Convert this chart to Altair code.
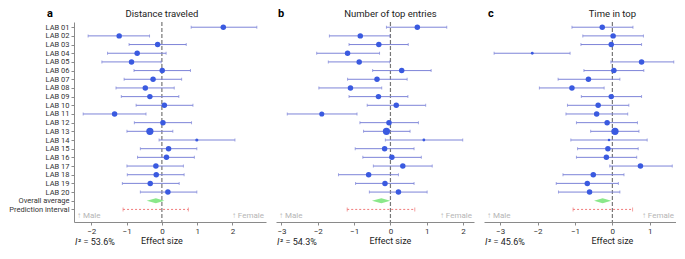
import altair as alt
import pandas as pd

# ---------------- data ----------------
labs = ["LAB 01", "LAB 02", "LAB 03", "LAB 04", "LAB 05", "LAB 06", "LAB 07", "LAB 08",
        "LAB 09", "LAB 10", "LAB 11", "LAB 12", "LAB 13", "LAB 14", "LAB 15", "LAB 16",
        "LAB 17", "LAB 18", "LAB 19", "LAB 20"]
summary_rows = ["Overall average", "Prediction interval"]

a_est = [1.74, -1.21, -0.12, -0.70, -0.86, 0.01, -0.25, -0.47, -0.34, 0.07, -1.34, 0.03,
         -0.34, 0.99, 0.19, 0.13, -0.17, -0.16, -0.33, 0.17]
a_lo = [0.83, -2.09, -0.93, -1.54, -1.70, -0.79, -1.07, -1.30, -1.15, -0.73, -2.23, -0.78,
        -0.99, -0.08, -0.61, -0.69, -0.99, -0.98, -1.12, -0.61]
a_hi = [2.69, -0.35, 0.69, 0.12, -0.02, 0.81, 0.56, 0.35, 0.48, 0.88, -0.45, 0.84,
        0.31, 2.07, 0.99, 0.92, 0.61, 0.63, 0.49, 0.99]
a_w = [30, 30, 30, 30, 30, 30, 30, 30, 30, 30, 30, 30, 52, 10, 30, 30, 30, 30, 30, 30]
a_overall = [-0.43, -0.17, 0.07]      # lo, est, hi
a_pred = [-1.10, 0.75]
a_i2 = "53.6%"

b_est = [0.74, -0.83, -0.32, -1.18, -0.86, 0.31, -0.37, -1.10, -0.33, 0.16, -1.89, -0.04,
         -0.11, 0.92, -0.16, 0.04, 0.34, -0.60, -0.15, 0.22]
b_lo = [-0.11, -1.68, -1.14, -2.03, -1.71, -0.49, -1.18, -1.97, -1.14, -0.64, -2.84, -0.84,
        -0.74, -0.14, -0.97, -0.76, -0.47, -1.43, -0.96, -0.58]
b_hi = [1.55, -0.02, 0.49, -0.30, -0.02, 1.12, 0.46, -0.24, 0.48, 0.97, -0.92, 0.77,
        0.54, 1.99, 0.65, 0.85, 1.15, 0.22, 0.65, 1.01]
b_w = [30, 30, 30, 30, 30, 30, 30, 30, 30, 30, 26, 30, 52, 8, 30, 30, 30, 30, 30, 30]
b_overall = [-0.51, -0.25, 0.0]
b_pred = [-1.19, 0.67]
b_i2 = "54.3%"

c_est = [-0.27, 0.02, -0.03, -2.14, 0.78, 0.04, -0.64, -1.08, -0.03, -0.38, -0.42, -0.14,
         0.07, -0.09, -0.12, -0.16, 0.75, -0.51, -0.67, -0.61]
c_lo = [-1.08, -0.79, -0.84, -3.16, -0.04, -0.76, -1.45, -1.95, -0.83, -1.20, -1.24, -0.96,
        -0.58, -1.11, -0.93, -0.96, -0.07, -1.32, -1.50, -1.44]
c_hi = [0.55, 0.83, 0.78, -1.13, 1.64, 0.84, 0.20, -0.22, 0.78, 0.44, 0.41, 0.67,
        0.71, 0.93, 0.69, 0.65, 1.60, 0.31, 0.16, 0.20]
c_w = [30, 30, 30, 8, 30, 30, 30, 30, 30, 30, 30, 30, 52, 6, 30, 30, 30, 30, 30, 30]
c_overall = [-0.49, -0.26, -0.03]
c_pred = [-1.05, 0.54]
c_i2 = "45.6%"

titles = ["Distance traveled", "Number of top entries", "Time in top"]
letters = ["a", "b", "c"]
a_ticks = [-2, -1, 0, 1, 2]
b_ticks = [-3, -2, -1, 0, 1, 2]
c_ticks = [-3, -2, -1, 0, 1]
x_title = "Effect size"
side_labels = ["\u2191 Male", "\u2191 Female"]

# ---------------- style ----------------
FONT = "Roboto"
PT = "#3a5ae0"
BAR = "#7d84d8"
GREEN = "#8ae88a"
RED = "#f07a7a"
AXC = "#8a8a8a"
TXT = "#333333"
H = 200
YDOM = [-0.6, 22.45]
DIAMOND_HALF = 0.3
SIDE_ROW = 21.72


def panel(letter, title, est, lo, hi, w, overall, pred, i2, xdom, xticks, width, letter_dx, show_y):
    n = len(labs)
    df = pd.DataFrame({"i": list(range(n)), "lab": labs, "est": est, "lo": lo, "hi": hi, "w": w})
    row_overall = n
    row_pred = n + 1
    diamond = pd.DataFrame({
        "x": [overall[0], overall[1], overall[2]],
        "y": [row_overall, row_overall - DIAMOND_HALF, row_overall],
        "y2": [row_overall, row_overall + DIAMOND_HALF, row_overall],
    })
    pred_df = pd.DataFrame({"lo": [pred[0]], "hi": [pred[1]], "i": [row_pred]})
    zero_df = pd.DataFrame({"z": [0], "t": [title], "xt": [x_title]})
    side_df = pd.DataFrame({"m": [SIDE_ROW], "x0": [xdom[0]], "x1": [xdom[1]],
                            "male": [side_labels[0]], "female": [side_labels[1]],
                            "letter": [letter], "i2": ["\u00b2 = " + i2], "I": ["I"]})

    xscale = alt.Scale(domain=xdom, nice=False, zero=False)
    yscale = alt.Scale(domain=YDOM, reverse=True, nice=False, zero=False)
    xaxis = alt.Axis(values=xticks, format="d", title=None, grid=False, tickSize=3,
                     labelPadding=2, labelFontSize=8, labelColor=TXT, domainColor=AXC,
                     tickColor=AXC, labelFont=FONT)
    all_rows = labs + summary_rows
    if show_y:
        expr = "[" + ",".join("'" + s + "'" for s in all_rows) + "][datum.value]"
        yaxis = alt.Axis(values=list(range(len(all_rows))), labelExpr=expr, title=None,
                         grid=False, tickSize=3, labelPadding=2, labelFontSize=7.5,
                         labelColor=TXT, domainColor=AXC, tickColor=AXC, labelFont=FONT)
    else:
        yaxis = None

    def X(f):
        return alt.X(f, scale=xscale, axis=xaxis)

    def Y(f):
        return alt.Y(f, scale=yscale, axis=yaxis)

    zero_line = alt.Chart(zero_df).mark_rule(color="#777777", strokeDash=[4, 2], strokeWidth=1.2).encode(
        x=X("z:Q"), y=alt.value(0), y2=alt.value(H))

    bars = alt.Chart(df).mark_rule(color=BAR, strokeWidth=1).encode(
        x=X("lo:Q"), x2="hi:Q", y=Y("i:Q"))
    caps = alt.Chart(df).transform_fold(["lo", "hi"], as_=["k", "v"]).mark_tick(
        color=BAR, orient="vertical", size=3, thickness=1).encode(x=X("v:Q"), y=Y("i:Q"))
    pts = alt.Chart(df).mark_circle(color=PT, opacity=1).encode(
        x=X("est:Q"), y=Y("i:Q"), size=alt.Size("w:Q", scale=None, legend=None))

    dia = alt.Chart(diamond).mark_area(color=GREEN, orient="vertical", opacity=1).encode(
        x=X("x:Q"), y=Y("y:Q"), y2="y2:Q")

    pline = alt.Chart(pred_df).mark_rule(color=RED, strokeDash=[2, 2], strokeWidth=1).encode(
        x=X("lo:Q"), x2="hi:Q", y=Y("i:Q"))
    pcaps = alt.Chart(pred_df).transform_fold(["lo", "hi"], as_=["k", "v"]).mark_tick(
        color=RED, orient="vertical", size=4, thickness=1).encode(x=X("v:Q"), y=Y("i:Q"))

    male = alt.Chart(side_df).mark_text(align="left", baseline="middle", fontSize=8, dx=3,
                                        color="#b5b5b5", font=FONT).encode(
        x=X("x0:Q"), y=Y("m:Q"), text="male:N")
    female = alt.Chart(side_df).mark_text(align="right", baseline="middle", fontSize=8, dx=-2,
                                          color="#b5b5b5", font=FONT).encode(
        x=X("x1:Q"), y=Y("m:Q"), text="female:N")

    ttl = alt.Chart(zero_df).mark_text(align="center", baseline="alphabetic", fontSize=9.5,
                                       color="#222222", font=FONT).encode(
        x=X("z:Q"), y=alt.value(-5), text="t:N")
    let = alt.Chart(side_df).mark_text(align="left", baseline="alphabetic", fontSize=11, dx=letter_dx,
                                       fontWeight="bold", color="#000000", font=FONT).encode(
        x=X("x0:Q"), y=alt.value(-5), text="letter:N")
    xt = alt.Chart(zero_df).mark_text(align="center", baseline="alphabetic", fontSize=9,
                                      color="#222222", font=FONT).encode(
        x=X("z:Q"), y=alt.value(H + 22), text="xt:N")
    i_it = alt.Chart(side_df).mark_text(align="left", baseline="alphabetic", fontSize=9, dx=1,
                                        fontStyle="italic", color="#222222", font=FONT).encode(
        x=X("x0:Q"), y=alt.value(H + 23), text="I:N")
    i_rest = alt.Chart(side_df).mark_text(align="left", baseline="alphabetic", fontSize=9, dx=4,
                                          color="#222222", font=FONT).encode(
        x=X("x0:Q"), y=alt.value(H + 23), text="i2:N")

    return alt.layer(zero_line, bars, caps, dia, pline, pcaps, pts, male, female,
                     ttl, let, xt, i_it, i_rest).properties(width=width, height=H)


pa = panel(letters[0], titles[0], a_est, a_lo, a_hi, a_w, a_overall, a_pred, a_i2,
           [-2.49, 2.95], a_ticks, 192, -27, True)
pb = panel(letters[1], titles[1], b_est, b_lo, b_hi, b_w, b_overall, b_pred, b_i2,
           [-3.15, 2.3], b_ticks, 198, 2, False)
pc = panel(letters[2], titles[2], c_est, c_lo, c_hi, c_w, c_overall, c_pred, c_i2,
           [-3.43, 1.7], c_ticks, 192, 4, False)

chart = alt.hconcat(pa, pb, pc, spacing=10).resolve_scale(
    x="independent", y="independent").configure(
    font=FONT, padding=0).configure_view(stroke=None)

chart.save("out.html", embed_options={"renderer": "svg", "actions": False})
